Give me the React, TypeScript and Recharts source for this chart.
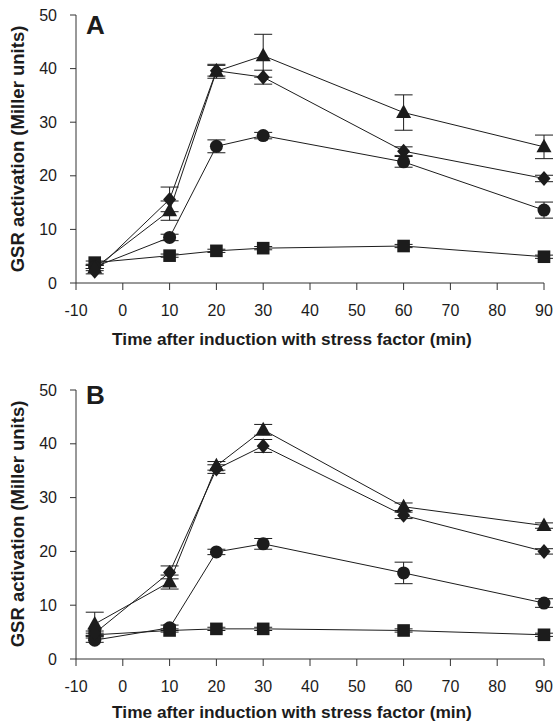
import { CartesianGrid, ErrorBar, Line, LineChart, XAxis, YAxis } from 'recharts';

const times = [-6, 10, 20, 30, 60, 90];
const xTicks = [-10, 0, 10, 20, 30, 40, 50, 60, 70, 80, 90];
const yTicks = [0, 10, 20, 30, 40, 50];

// panel A
const aTriangle = [2.8, 13.5, 39.5, 42.4, 31.8, 25.4];
const aTriangleErr = [0.5, 1.8, 1.3, 4.0, 3.3, 2.2];
const aDiamond = [2.2, 15.6, 39.6, 38.4, 24.6, 19.5];
const aDiamondErr = [0.5, 2.3, 1.0, 1.3, 0.8, 0.6];
const aCircle = [3.0, 8.5, 25.5, 27.5, 22.6, 13.6];
const aCircleErr = [0.3, 0.6, 1.2, 0.6, 1.0, 1.5];
const aSquare = [3.8, 5.1, 6.0, 6.5, 6.9, 4.9];
const aSquareErr = [0.3, 0.3, 0.3, 0.3, 0.3, 0.3];

// panel B
const bTriangle = [6.5, 14.3, 35.9, 42.6, 28.3, 24.8];
const bTriangleErr = [2.2, 1.3, 0.8, 1.0, 0.7, 0.5];
const bDiamond = [4.8, 16.1, 35.3, 39.6, 26.7, 20.0];
const bDiamondErr = [0.4, 1.2, 0.8, 1.2, 0.6, 0.5];
const bCircle = [3.5, 5.8, 19.9, 21.4, 16.0, 10.4];
const bCircleErr = [0.4, 0.5, 0.5, 1.0, 2.0, 0.8];
const bSquare = [4.5, 5.3, 5.6, 5.6, 5.3, 4.5];
const bSquareErr = [0.3, 0.3, 0.3, 0.3, 0.3, 0.3];

const INK = '#1c1c1c';
const FONT = '"Liberation Sans", Arial, sans-serif';

type Shape = 'triangle' | 'diamond' | 'circle' | 'square';

const marker = (shape: Shape) => (p: any) => {
  const { cx, cy, index } = p;
  const k = `${shape}-${index}`;
  if (cx == null || cy == null) return <g key={k} />;
  if (shape === 'circle') return <circle key={k} cx={cx} cy={cy} r={6.5} fill={INK} />;
  if (shape === 'square') return <rect key={k} x={cx - 6.3} y={cy - 6.3} width={12.6} height={12.6} fill={INK} />;
  if (shape === 'triangle')
    return <polygon key={k} points={`${cx},${cy - 8} ${cx + 7.5},${cy + 5.5} ${cx - 7.5},${cy + 5.5}`} fill={INK} />;
  return <polygon key={k} points={`${cx},${cy - 7.5} ${cx + 6.5},${cy} ${cx},${cy + 7.5} ${cx - 6.5},${cy}`} fill={INK} />;
};

const buildRows = (series: { vals: number[]; errs: number[] }[]) =>
  times.map((t, i) => {
    const row: any = { t };
    series.forEach((s, j) => {
      row[`v${j}`] = s.vals[i];
      row[`e${j}`] = s.errs[i];
    });
    return row;
  });

const shapes: Shape[] = ['square', 'circle', 'diamond', 'triangle'];

function Panel({ data, height, top, bottom }: { data: any[]; height: number; top: number; bottom: number }) {
  return (
    <LineChart width={556} height={height} data={data} margin={{ top, right: 12, left: 0, bottom }}>
      <CartesianGrid stroke="none" />
      <XAxis
        dataKey="t"
        type="number"
        domain={[-10, 90]}
        ticks={xTicks}
        interval={0}
        height={60}
        stroke="#333"
        tickSize={7}
        tickMargin={15}
        tick={{ fill: INK, fontSize: 16, fontFamily: FONT }}
        tickLine={{ stroke: '#333' }}
      />
      <YAxis
        type="number"
        domain={[0, 50]}
        ticks={yTicks}
        interval={0}
        width={76}
        stroke="#333"
        tickSize={6}
        tickMargin={13}
        tick={{ fill: INK, fontSize: 16, fontFamily: FONT }}
      />
      {shapes.map((s, j) => (
        <Line
          key={s}
          dataKey={`v${j}`}
          type="linear"
          stroke={INK}
          strokeWidth={1}
          dot={marker(s)}
          activeDot={false}
          isAnimationActive={false}
        >
          <ErrorBar dataKey={`e${j}`} direction="y" width={9} stroke={INK} strokeWidth={1} isAnimationActive={false} />
        </Line>
      ))}
    </LineChart>
  );
}

const dataA = buildRows([
  { vals: aSquare, errs: aSquareErr },
  { vals: aCircle, errs: aCircleErr },
  { vals: aDiamond, errs: aDiamondErr },
  { vals: aTriangle, errs: aTriangleErr },
]);
const dataB = buildRows([
  { vals: bSquare, errs: bSquareErr },
  { vals: bCircle, errs: bCircleErr },
  { vals: bDiamond, errs: bDiamondErr },
  { vals: bTriangle, errs: bTriangleErr },
]);

const yTitle = 'GSR activation (Miller units)';
const xTitle = 'Time after induction with stress factor (min)';

const textBase = { position: 'absolute' as const, fontFamily: FONT, fontWeight: 700, color: INK, whiteSpace: 'nowrap' as const };

function Titles({ offset, plotMid, xTitleY }: { offset: number; plotMid: number; xTitleY: number }) {
  return (
    <>
      <div
        style={{
          ...textBase,
          fontSize: 18.5,
          left: 18,
          top: offset + plotMid,
          transform: 'translate(-50%, -50%) rotate(-90deg)',
        }}
      >
        {yTitle}
      </div>
      <div style={{ ...textBase, fontSize: 17.3, left: 292, top: offset + xTitleY, transform: 'translate(-50%, -50%)' }}>
        {xTitle}
      </div>
    </>
  );
}

export default function App() {
  return (
    <div style={{ position: 'absolute', left: 0, top: 0, width: 556, height: 724, background: '#fff', overflow: 'hidden' }}>
      <div style={{ position: 'absolute', left: 0, top: 0 }}>
        <Panel data={dataA} height={360} top={15} bottom={17} />
      </div>
      <div style={{ position: 'absolute', left: 0, top: 360 }}>
        <Panel data={dataB} height={364} top={30} bottom={5} />
      </div>
      <Titles offset={0} plotMid={149} xTitleY={339} />
      <Titles offset={360} plotMid={164} xTitleY={352} />
      <div style={{ ...textBase, fontSize: 26, left: 86, top: 11.5, lineHeight: 1 }}>A</div>
      <div style={{ ...textBase, fontSize: 26, left: 86, top: 381.5, lineHeight: 1 }}>B</div>
    </div>
  );
}
